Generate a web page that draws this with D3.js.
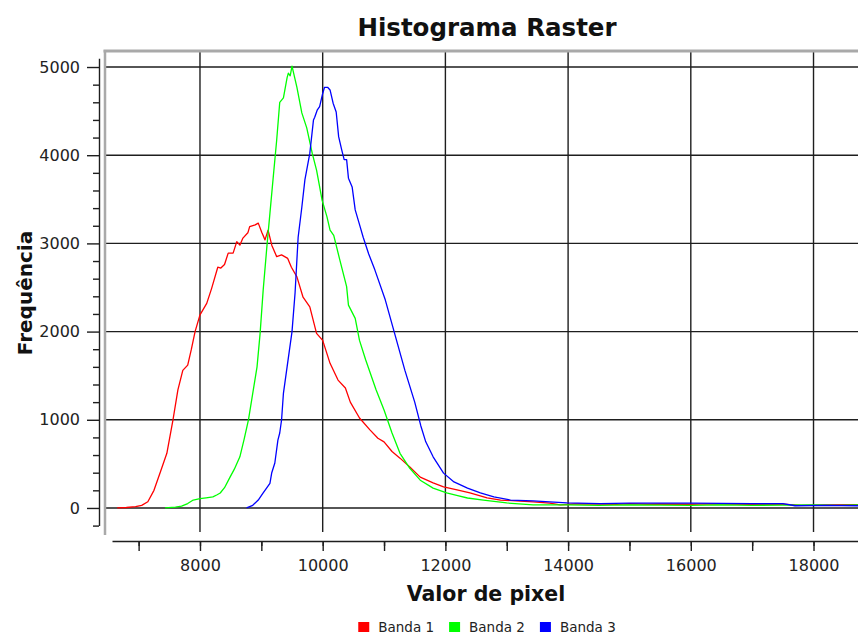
<!DOCTYPE html>
<html>
<head>
<meta charset="utf-8">
<script src="https://cdn.jsdelivr.net/npm/d3@7"></script>
<style>
  body { margin: 0; background: #fff; }
  svg { display: block; font-family: 'DejaVu Sans', sans-serif; }
  .tick text { fill: #222; }
</style>
</head>
<body>
<div class="chart"></div>
<script>
// histogram values: [pixel value, frequency]
const band1 = [
  [6650, 0], [6800, 5], [6950, 15], [7050, 30], [7150, 70], [7250, 200], [7350, 400], [7460, 620],
  [7560, 1000], [7640, 1340], [7720, 1560], [7800, 1620], [7860, 1800], [7920, 2000], [8000, 2190],
  [8110, 2320], [8190, 2490], [8290, 2730], [8340, 2720], [8400, 2760], [8460, 2890], [8540, 2890],
  [8600, 3020], [8650, 2980], [8700, 3060], [8780, 3120], [8810, 3190], [8900, 3210], [8950, 3230],
  [9010, 3120], [9060, 3040], [9110, 3150], [9170, 2980], [9250, 2850], [9330, 2870], [9430, 2830],
  [9490, 2730], [9580, 2620], [9680, 2390], [9790, 2280], [9900, 1980], [10000, 1900], [10120, 1640],
  [10250, 1450], [10370, 1360], [10450, 1200], [10600, 1020], [10770, 885], [10900, 790], [11000, 750],
  [11130, 640], [11260, 565], [11420, 465], [11590, 350], [11800, 285], [11970, 240], [12190, 205],
  [12400, 170], [12680, 115], [12900, 90], [13150, 80], [13430, 68], [13700, 55], [13870, 34],
  [14100, 45], [14500, 45], [14800, 40], [15000, 48], [15300, 42], [15500, 45], [16000, 42],
  [16300, 46], [16500, 45], [17000, 40], [17500, 42], [17800, 30], [18200, 35], [18725, 38]
]
const band2 = [
  [7430, 0], [7600, 10], [7700, 20], [7800, 50], [7890, 90], [8000, 105], [8100, 115], [8210, 125],
  [8280, 150], [8330, 170], [8400, 230], [8490, 350], [8560, 440], [8650, 580], [8720, 780],
  [8790, 1000], [8860, 1300], [8930, 1600], [8980, 1980], [9030, 2470], [9090, 2960], [9140, 3340],
  [9190, 3720], [9250, 4170], [9300, 4600], [9360, 4650], [9420, 4880], [9440, 4930], [9470, 4900],
  [9500, 5010], [9580, 4770], [9660, 4480], [9740, 4310], [9830, 4020], [9900, 3830], [9940, 3680],
  [9990, 3490], [10070, 3300], [10120, 3150], [10180, 3090], [10280, 2810], [10390, 2510],
  [10420, 2300], [10530, 2150], [10600, 1900], [10700, 1680], [10870, 1340], [11000, 1110],
  [11130, 850], [11260, 620], [11420, 450], [11590, 315], [11800, 225], [12020, 170], [12200, 140],
  [12360, 113], [12620, 90], [13000, 57], [13430, 34], [13980, 34], [14500, 30], [15000, 35],
  [15500, 32], [16000, 30], [16500, 35], [17000, 30], [17500, 32], [18000, 35], [18400, 30], [18725, 35]
]
const band3 = [
  [8760, 0], [8860, 30], [8950, 90], [9030, 170], [9140, 280], [9170, 400], [9220, 510], [9270, 770],
  [9300, 850], [9330, 1000], [9360, 1300], [9420, 1600], [9500, 2000], [9550, 2440], [9600, 3070],
  [9660, 3410], [9710, 3720], [9790, 4020], [9850, 4400], [9870, 4430], [9910, 4510], [9950, 4550],
  [10000, 4700], [10030, 4770], [10080, 4770], [10120, 4740], [10170, 4590], [10220, 4490],
  [10260, 4210], [10310, 4060], [10350, 3950], [10390, 3950], [10420, 3740], [10480, 3640],
  [10530, 3380], [10610, 3190], [10660, 3070], [10750, 2880], [10850, 2700], [11020, 2360],
  [11180, 1960], [11340, 1560], [11500, 1200], [11600, 930], [11680, 750], [11800, 580],
  [11970, 395], [12140, 295], [12360, 225], [12570, 170], [12790, 125], [13060, 90], [13430, 80],
  [13700, 68], [13980, 57], [14520, 50], [15000, 55], [15500, 55], [16000, 55], [16500, 52],
  [17000, 50], [17500, 50], [17700, 25], [18200, 30], [18725, 25]
]

const bandNames = ['Banda 1', 'Banda 2', 'Banda 3']
const bandColors = ['#ff0000', '#00ff00', '#0000ff']
const xDomain = [6566, 18725]
const yDomain = [-200, 5100]
const xGridTicks = [8000, 10000, 12000, 14000, 16000, 18000]
const yGridTicks = [0, 1000, 2000, 3000, 4000, 5000]

const W = 858
const H = 635
const plot = {left: 105, top: 51, right: 858, bottom: 532}

const svg = d3.select('.chart').append('svg')
  .attr('width', W)
  .attr('height', H)

const x = d3.scaleLinear().domain(xDomain).range([112, 858])
const y = d3.scaleLinear().domain(yDomain).range([525.6, 58.2])

// title
svg.append('text')
  .attr('x', 487)
  .attr('y', 36)
  .attr('text-anchor', 'middle')
  .attr('font-weight', 'bold')
  .attr('font-size', 24.5)
  .attr('fill', '#111')
  .text('Histograma Raster')

// grid
const grid = svg.append('g').attr('class', 'grid')
grid.selectAll('line.h').data(yGridTicks).enter().append('line')
  .attr('class', 'h')
  .attr('x1', plot.left).attr('x2', plot.right)
  .attr('y1', d => y(d)).attr('y2', d => y(d))
  .attr('stroke', '#1e1e1e').attr('stroke-width', 1.4)
grid.selectAll('line.v').data(xGridTicks).enter().append('line')
  .attr('class', 'v')
  .attr('x1', d => x(d)).attr('x2', d => x(d))
  .attr('y1', plot.top).attr('y2', plot.bottom)
  .attr('stroke', '#1e1e1e').attr('stroke-width', 1.4)

// curves
svg.append('clipPath').attr('id', 'clip')
  .append('rect')
  .attr('x', plot.left).attr('y', plot.top)
  .attr('width', plot.right - plot.left).attr('height', plot.bottom - plot.top)

const line = d3.line().x(d => x(d[0])).y(d => y(d[1]))
svg.append('g').attr('clip-path', 'url(#clip)')
  .selectAll('path').data([band1, band2, band3]).enter().append('path')
  .attr('d', line)
  .attr('fill', 'none')
  .attr('stroke', (d, i) => bandColors[i])
  .attr('stroke-width', 1.3)
  .attr('stroke-linejoin', 'round')

// frame (top and left)
svg.append('line')
  .attr('x1', 103.5).attr('x2', W).attr('y1', 51).attr('y2', 51)
  .attr('stroke', '#a9a9a9').attr('stroke-width', 3)
svg.append('line')
  .attr('x1', 105).attr('x2', 105).attr('y1', 50).attr('y2', 535)
  .attr('stroke', '#a9a9a9').attr('stroke-width', 2.5)

// y axis
const yMinor = d3.range(-200, 5001, 200).filter(d => d % 1000 !== 0)
const yAxisG = svg.append('g').attr('transform', 'translate(99,0)')
yAxisG.call(d3.axisLeft(y).tickValues(yGridTicks).tickSize(12).tickPadding(7).tickSizeOuter(0)
  .tickFormat(d3.format('d')))
yAxisG.append('g').call(d3.axisLeft(y).tickValues(yMinor).tickSize(6).tickFormat('').tickSizeOuter(0))
  .select('.domain').remove()

// x axis
const xMajor = d3.range(7000, 18725, 1000)
const xMinor = d3.range(6500, 18725, 1000).map(d => d + 500).filter(d => d > xDomain[0])
const xAxisG = svg.append('g').attr('transform', 'translate(0,541)')
xAxisG.call(d3.axisBottom(x).tickValues(xMajor).tickSize(10).tickPadding(9).tickSizeOuter(0)
  .tickFormat(d => d % 2000 === 0 ? d : ''))
xAxisG.append('g').call(d3.axisBottom(x).tickValues(xMinor).tickSize(5).tickFormat('').tickSizeOuter(0))
  .select('.domain').remove()

svg.selectAll('.domain, .tick line')
  .attr('stroke', '#1e1e1e').attr('stroke-width', 1.4)
svg.selectAll('.tick text')
  .attr('font-family', "'DejaVu Sans', sans-serif")
  .attr('font-size', 16)

// axis titles
svg.append('text')
  .attr('x', 486)
  .attr('y', 601)
  .attr('text-anchor', 'middle')
  .attr('font-weight', 'bold')
  .attr('font-size', 20.5)
  .attr('fill', '#111')
  .text('Valor de pixel')

svg.append('text')
  .attr('transform', 'translate(32,293) rotate(-90)')
  .attr('text-anchor', 'middle')
  .attr('font-weight', 'bold')
  .attr('font-size', 20)
  .attr('fill', '#111')
  .text('Frequência')

// legend
const legend = svg.append('g').attr('class', 'legend')
let lx = 0
bandNames.forEach((name, i) => {
  const item = legend.append('g').attr('transform', `translate(${lx},0)`)
  item.append('rect')
    .attr('x', 0).attr('y', 622)
    .attr('width', 11).attr('height', 10)
    .attr('fill', bandColors[i])
  const t = item.append('text')
    .attr('x', 20).attr('y', 632)
    .attr('font-size', 13.5)
    .attr('fill', '#222')
    .text(name)
  lx += 20 + t.node().getComputedTextLength() + 15
})
const legendWidth = lx - 15
legend.attr('transform', `translate(${487 - legendWidth / 2},0)`)
</script>
</body>
</html>
